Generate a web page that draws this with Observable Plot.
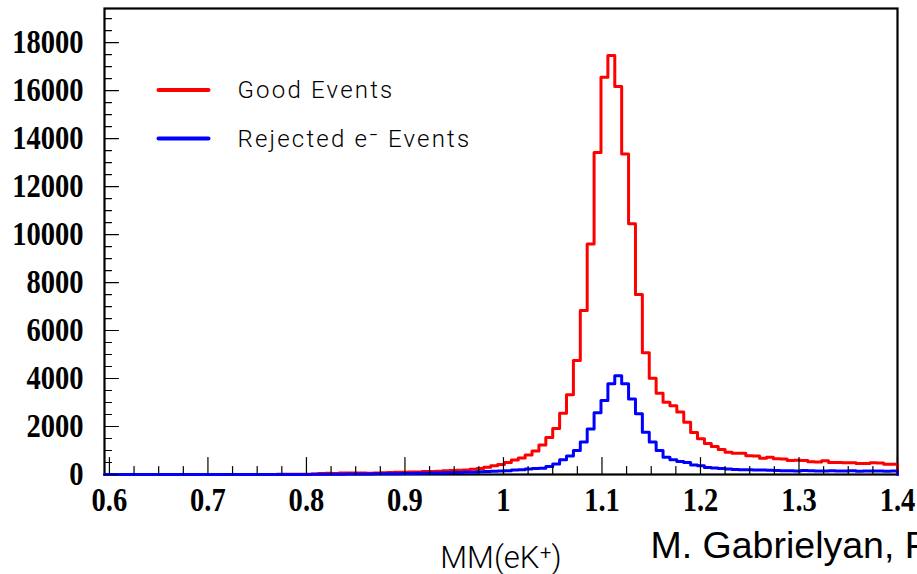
<!DOCTYPE html>
<html><head><meta charset="utf-8">
<script src="https://cdn.jsdelivr.net/npm/d3@7"></script>
<script src="https://cdn.jsdelivr.net/npm/@observablehq/plot@0.6"></script>
<style>
html,body{margin:0;padding:0;background:#fff;overflow:hidden;}
#chart{position:relative;width:917px;height:574px;overflow:hidden;}
</style></head><body><div id="chart"></div>
<script>
// Histogram binning (ROOT-style, 0.007 wide bins; visible range starts at 0.595)
const binStart = 0.595;
const binWidth = 0.007;

const goodEvents = [
  0,0,0,0,0,0,0,0,0,0,0,0,0,0,0,0,0,0,
  0,0,2,0,3,5,4,6,8,10,12,15,20,
  45,50,40,60,65,60,65,55,60,70,85,90,95,100,105,120,125,135,155,165,175,190,215,250,
  300,360,420,500,600,690,810,980,1230,1540,1920,2550,3320,4750,6830,9610,13420,16550,17460,
  16170,13360,10450,7500,5070,4010,3390,3010,2870,2600,2180,1750,1490,1290,1170,1040,925,
  890,885,780,775,680,720,655,650,585,590,580,530,525,570,505,500,485,490,460,455,485,480,430,430
];
const rejectedEvents = [
  0,0,0,0,0,0,0,0,0,0,0,0,0,0,0,0,0,0,0,0,0,0,0,0,0,0,
  2,3,4,5,6,8,10,12,15,18,
  20,22,25,28,30,33,36,40,44,48,
  55,60,65,70,78,85,90,95,110,130,140,145,160,190,200,230,245,265,335,440,610,770,1000,1350,1900,
  2570,3080,3780,4120,3780,3150,2530,1760,1350,1000,720,610,540,500,400,360,295,270,245,230,
  205,200,195,190,185,180,165,160,160,150,165,155,150,150,160,145,150,155,140,150,145,150,140,145
];

const seriesNames = ["Good Events", "Rejected e\u207B Events"];
const seriesColors = ["#ff0000", "#0000ff"];

const xTickValues = [0.6, 0.7, 0.8, 0.9, 1.0, 1.1, 1.2, 1.3, 1.4];
const xTickLabels = ["0.6", "0.7", "0.8", "0.9", "1", "1.1", "1.2", "1.3", "1.4"];
const yTickValues = [0, 2000, 4000, 6000, 8000, 10000, 12000, 14000, 16000, 18000];
const yTickLabels = ["0", "2000", "4000", "6000", "8000", "10000", "12000", "14000", "16000", "18000"];
const xMinorStep = 0.025;
const yMinorStep = 500;
const xDomain = [0.595, 1.4];
const yDomain = [0, 19420];
const xAxisTitle = "MM(eK\u207A)";
const creditText = "M. Gabrielyan, FIU";

function histPoints(values) {
  const pts = values.map((v, j) => ({x: binStart + j * binWidth, y: v}));
  const end = binStart + values.length * binWidth;
  pts.push({x: end, y: values[values.length - 1]});
  pts.push({x: end, y: 0});
  return pts;
}
const goodPts = histPoints(goodEvents);
const rejPts = histPoints(rejectedEvents);

const xMinor = d3.range(0.6, 1.4 + 1e-9, xMinorStep).filter(v => !xTickValues.some(t => Math.abs(t - v) < 1e-6));
const yMinor = d3.range(0, yDomain[1], yMinorStep).filter(v => v % 2000 !== 0);

const tickShape = {draw(context, l) { context.moveTo(0, 0); context.lineTo(0, -l); }};
const lineShape = tickShape;

const serifBold = {fontFamily: "Liberation Serif", fontWeight: "bold", fontSize: 34, fill: "black"};
const thin = {fontFamily: "Roboto", fontWeight: 300, fill: "black"};

const plot = Plot.plot({
  width: 917,
  height: 574,
  marginLeft: 104,
  marginRight: 20,
  marginTop: 8,
  marginBottom: 100,
  x: {domain: xDomain, axis: null},
  y: {domain: yDomain, axis: null},
  marks: [
    Plot.frame({stroke: "black", strokeWidth: 2.2}),
    Plot.line(goodPts, {x: "x", y: "y", curve: "step-after", stroke: seriesColors[0], strokeWidth: 3}),
    Plot.line(rejPts, {x: "x", y: "y", curve: "step-after", stroke: seriesColors[1], strokeWidth: 3}),
    // x ticks (inward)
    Plot.vector(xTickValues, {x: d => d, y: () => 0, rotate: 0, length: 17, anchor: "start", shape: tickShape, stroke: "black", strokeWidth: 1.2}),
    Plot.vector(xMinor, {x: d => d, y: () => 0, rotate: 0, length: 8, anchor: "start", shape: tickShape, stroke: "black", strokeWidth: 1.2}),
    // y ticks (inward)
    Plot.vector(yTickValues, {x: () => xDomain[0], y: d => d, rotate: 90, length: 14, anchor: "start", shape: tickShape, stroke: "black", strokeWidth: 1.2}),
    Plot.vector(yMinor, {x: () => xDomain[0], y: d => d, rotate: 90, length: 7, anchor: "start", shape: tickShape, stroke: "black", strokeWidth: 1.2}),
    // tick labels
    Plot.text(xTickValues, {x: d => d, y: () => 0, text: (d, i) => xTickLabels[i], lineAnchor: "top", dy: 12, ...serifBold, ariaDescription: "x tick label"}),
    Plot.text(yTickValues, {x: () => xDomain[0], y: d => d, text: (d, i) => yTickLabels[i], textAnchor: "end", lineAnchor: "middle", dx: -21, ...serifBold, ariaDescription: "y tick label"}),
    // legend
    Plot.vector([0], {frameAnchor: "top-left", dx: 54, dy: 81.5, rotate: 90, length: 50, anchor: "start", shape: lineShape, stroke: seriesColors[0], strokeWidth: 4}),
    Plot.vector([0], {frameAnchor: "top-left", dx: 54, dy: 130, rotate: 90, length: 50, anchor: "start", shape: lineShape, stroke: seriesColors[1], strokeWidth: 4}),
    Plot.text([seriesNames[0]], {frameAnchor: "top-left", dx: 133, dy: 82, textAnchor: "start", lineAnchor: "middle", fontSize: 24, ...thin, ariaDescription: "legend text"}),
    Plot.text([seriesNames[1]], {frameAnchor: "top-left", dx: 133, dy: 130.5, textAnchor: "start", lineAnchor: "middle", fontSize: 24, ...thin, ariaDescription: "legend text"}),
    // axis title and credit
    Plot.text([xAxisTitle], {frameAnchor: "bottom", dy: 93, lineAnchor: "bottom", fontSize: 31, ...thin, ariaDescription: "axis title"}),
    Plot.text([creditText], {frameAnchor: "bottom-right", dx: -247, dy: 83, textAnchor: "start", lineAnchor: "bottom", fontSize: 37.5, fontFamily: "Liberation Sans", fill: "black", ariaDescription: "credit"})
  ]
});

function textsOf(desc) {
  return Array.from(plot.querySelectorAll(`[aria-description="${desc}"]`)).flatMap(el =>
    el.tagName.toLowerCase() === "text" ? [el] : Array.from(el.querySelectorAll("text")));
}
[...textsOf("y tick label"), ...textsOf("x tick label")].forEach(t => {
  let tr = t.getAttribute("transform");
  if (!tr) {
    const x = t.getAttribute("x") || 0, y = t.getAttribute("y") || 0;
    t.removeAttribute("x"); t.removeAttribute("y");
    tr = `translate(${x},${y})`;
  }
  t.setAttribute("transform", tr + " scale(0.84,1)");
});
textsOf("legend text").forEach(t => t.style.letterSpacing = "2.2px");
document.getElementById("chart").appendChild(plot);
</script>
</body></html>
